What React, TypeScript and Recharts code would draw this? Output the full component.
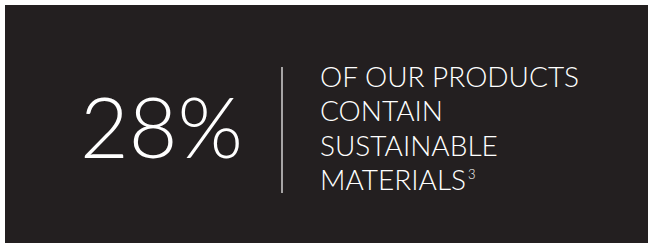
import { Surface, Layer, Rectangle, Text } from "recharts";

const statValue = 28;
const statUnit = "%";
const descriptionLines = ["OF OUR PRODUCTS", "CONTAIN", "SUSTAINABLE", "MATERIALS"];
const footnoteMark = "3";

const W = 653;
const H = 248;
const BG = "#231f20";
const FG = "#ffffff";
const FONT = "Lato, 'Open Sans', sans-serif";

export default function App() {
  const lineGap = 34.3;
  const firstBaseline = 87;
  const lastLine = descriptionLines[descriptionLines.length - 1];
  return (
    <div style={{ position: "fixed", left: 0, top: 0, width: W, height: H, background: "#fff" }}>
      <Surface width={W} height={H}>
        <Rectangle x={5} y={5} width={643} height={238} fill={BG} />
        <Layer>
          <Text
            x={80}
            y={158}
            verticalAnchor="end"
            fill={FG}
            fontFamily={FONT}
            fontWeight={300}
            fontSize={84}
          >
            {`${statValue}${statUnit}`}
          </Text>
          <line x1={282} x2={282} y1={67} y2={193} stroke={FG} strokeWidth={1.2} />
          {descriptionLines.map((t, i) => (
            <text
              key={t}
              x={320}
              y={firstBaseline + i * lineGap}
              fill={FG}
              fontFamily={FONT}
              fontWeight={300}
              fontSize={28}
            >
              {t}
              {t === lastLine && (
                <tspan fontSize={13} dy={-11} dx={2}>
                  {footnoteMark}
                </tspan>
              )}
            </text>
          ))}
        </Layer>
      </Surface>
    </div>
  );
}
